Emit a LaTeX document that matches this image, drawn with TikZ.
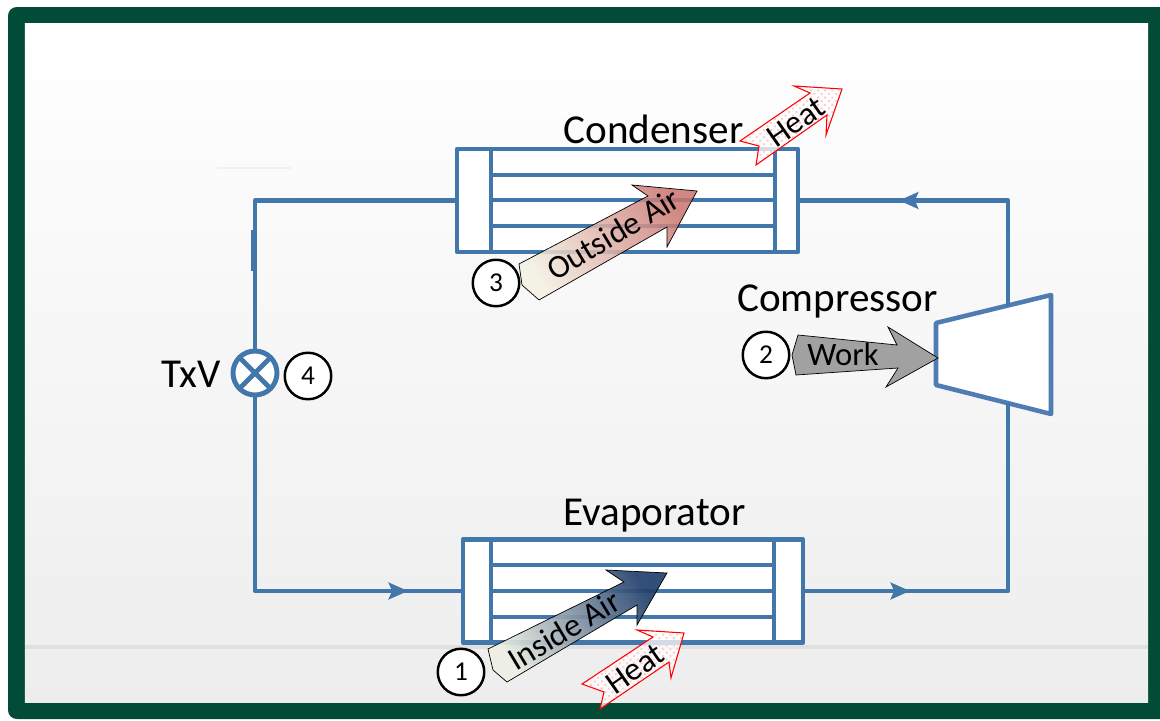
\documentclass[tikz,border=0pt]{standalone}
\usepackage{fontspec}
\setmainfont{Carlito}
\usepackage{xcolor}
\usetikzlibrary{arrows.meta,patterns.meta,positioning}
\definecolor{framegreen}{HTML}{024C37}
\definecolor{pipeblue}{HTML}{4177AA}
\definecolor{compblue}{HTML}{4F7DB3}
\definecolor{outsidehead}{HTML}{C9746E}
\definecolor{outsidetail}{HTML}{F4F0E2}
\definecolor{insidehead}{HTML}{22406C}
\definecolor{insidetail}{HTML}{EEF0E4}

\begin{document}
\begin{tikzpicture}[scale=0.2]
    \tikzstyle{every node}=[inner sep=0pt,outer sep=0pt]
    \tikzstyle{pipe}=[draw=pipeblue,line width=2.6pt,line join=round]
    \tikzstyle{hxbox}=[pipe,fill=white,minimum height=2.06cm]
    \tikzstyle{numcircle}=[circle,draw=black,line width=1.4pt,fill=white,minimum size=0.93cm,font=\fontsize{15.5}{16}\selectfont]
    \tikzstyle{label}=[font=\fontsize{23.4}{24}\selectfont]
    \tikzstyle{arrowtext}=[font=\fontsize{18.6}{20}\selectfont]
    \tikzstyle{flow}=[pipe,-{Stealth[length=11pt,width=9.5pt,inset=2pt]}]
    \tikzstyle{heatarrow}=[draw=red,line width=0.6pt,line join=miter,preaction={fill=white,fill opacity=0.75},pattern={Dots[radius=0.8pt,distance=2.9pt,angle=45]},pattern color=red!20]
    \useasboundingbox (0,0) rectangle (116,-72.1);
    \fill [framegreen,rounded corners=5pt] (0.8,-0.7) rectangle (118,-71.9);
    \node [top color=white,bottom color=black!7,minimum width=22.46cm,minimum height=13.56cm] (frame) at (58.65,-36.3) {};
    \draw [black!12,line width=2.2pt] (2.5,-64.7) -- (114.8,-64.7);
    \draw [black!6,line width=0.9pt] (21.7,-16.8) -- (29.1,-16.8);
    \fill [black!2] (21.7,-18) rectangle (29.1,-19.4);

    \node [hxbox,minimum width=6.82cm] (condenser) at (62.75,-20.05) {};
    \node [hxbox,minimum width=6.8cm] (evaporator) at (63.3,-59.1) {};
    \draw [pipe] (49.1,-14.9) -- (49.1,-25.2);
    \draw [pipe] (77.5,-14.9) -- (77.5,-25.2);
    \draw [pipe] (49.1,-53.9) -- (49.1,-64.3);
    \draw [pipe] (77.4,-53.9) -- (77.4,-64.3);
    \foreach \y in {-17.5,-20,-22.6}
        \draw [pipe] (49.1,\y) -- (77.5,\y);
    \foreach \y in {-56.5,-59.1,-61.7}
        \draw [pipe] (49.1,\y) -- (77.4,\y);

    \coordinate (comptop) at (100.8,-30.6);
    \coordinate (compbot) at (100.8,-40.3);
    \coordinate (pipetr) at (100.8,-20.05);
    \coordinate (pipetl) at (25.5,-20.05);
    \coordinate (pipebl) at (25.5,-59.1);
    \coordinate (pipebr) at (100.8,-59.1);
    \coordinate (flowtop) at (89.9,-20.05);
    \coordinate (flowleft) at (40.8,-59.1);
    \coordinate (flowright) at (91,-59.1);
    \draw [pipe,fill=white,draw=compblue] (93.6,-32.3) -- (105.1,-29.5) -- (105.1,-41.4) -- (93.6,-38.5) -- cycle;

    \node [circle,pipe,fill=white,line width=2.8pt,minimum size=0.88cm] (valve) at (25.5,-37.3) {};
    \draw [pipe,line width=2.8pt] (valve.north west) -- (valve.south east);
    \draw [pipe,line width=2.8pt] (valve.north east) -- (valve.south west);

    \draw [pipe] ([xshift=0.1cm]condenser.east) -- (pipetr) -- (comptop);
    \draw [flow] (pipetr) -- (flowtop);
    \draw [pipe] ([xshift=0.12cm]condenser.west) -- (pipetl) -- (valve.north);
    \draw [pipe] (25.35,-23) -- (25.35,-27.1);
    \draw [pipe] (valve.south) -- (pipebl) -- (evaporator.west);
    \draw [flow] (pipebl) -- (flowleft);
    \draw [pipe] (evaporator.east) -- (pipebr) -- (compbot);
    \draw [flow] (evaporator.east) -- (flowright);

    \draw [black,line width=0.4pt,fill opacity=0.85,top color=outsidehead,bottom color=outsidetail,shading angle=-60] (51.9,-26.4) -- (64.8,-19.6) -- (63.2,-18.5) -- (69.7,-19.1) -- (66.7,-24.7) -- (66.7,-22.7) -- (53.9,-30) -- (52.2,-28.5) -- cycle;
    \draw [black,line width=0.4pt,fill opacity=0.92,top color=insidehead,bottom color=insidetail,shading angle=-60] (48.8,-64.9) -- (62.4,-58.2) -- (60.6,-57) -- (66.7,-57.3) -- (63.7,-62.5) -- (63.7,-60.5) -- (50.7,-68.2) -- (49.3,-67) -- cycle;
    \draw [black,line width=0.4pt,fill=black!37] (79.8,-33.5) -- (89.7,-34.5) -- (88.8,-32.7) -- (93.8,-35.8) -- (88.6,-38.7) -- (89.8,-36.8) -- (79.6,-37.5) -- (79.2,-35.5) -- cycle;
    \draw [heatarrow] (74,-14.1) -- (81,-9.3) -- (79.4,-8.6) -- (84.2,-8.9) -- (82.6,-13.5) -- (82.7,-11.5) -- (75.6,-16.5) -- (75.9,-14.6) -- cycle;
    \draw [heatarrow] (58.2,-68.4) -- (65.3,-63.7) -- (63.7,-63) -- (68.4,-63.3) -- (67.1,-67.8) -- (66.9,-66.2) -- (60,-70.9) -- (60.4,-69.2) -- cycle;

    \node [label] (condlabel) at (65.35,-12.9) {Condenser};
    \node [label] (evaplabel) at (65.45,-51.6) {Evaporator};
    \node [label] (complabel) at (83.75,-30.1) {Compressor};
    \node [label] (valvelabel) at (19.1,-37.4) {TxV};
    \node [arrowtext,rotate=31] (outsidetext) at (61.3,-23.4) {Outside Air};
    \node [arrowtext,rotate=31] (insidetext) at (56.4,-63) {Inside Air};
    \node [arrowtext] (worktext) at (84.3,-35.4) {Work};
    \node [arrowtext,rotate=35] (heattop) at (79.6,-12.2) {Heat};
    \node [arrowtext,rotate=35] (heatbot) at (63.5,-66.9) {Heat};
    \node [numcircle] (one) at (46.1,-67.2) {1};
    \node [numcircle] (two) at (76.6,-35.5) {2};
    \node [numcircle] (three) at (49.6,-28.3) {3};
    \node [numcircle] (four) at (30.8,-37.6) {4};
\end{tikzpicture}
\end{document}
